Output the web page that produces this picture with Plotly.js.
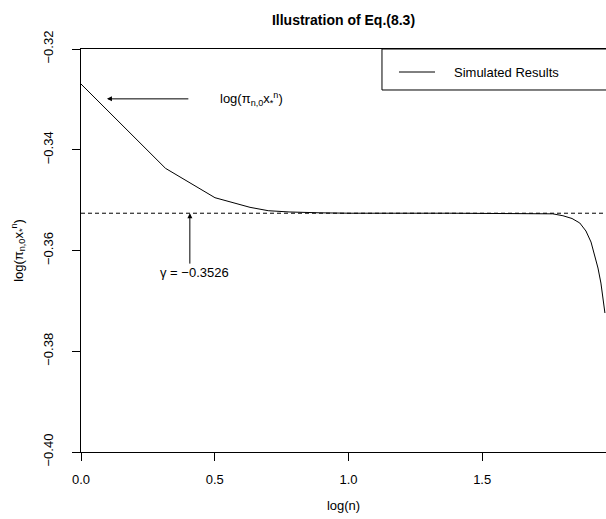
<!DOCTYPE html>
<html>
<head>
<meta charset="utf-8">
<script src="https://cdn.plot.ly/plotly-3.0.1.min.js"></script>
<style>html,body{margin:0;padding:0;background:#fff;}#chart{width:606px;height:519px;}</style>
</head>
<body>
<div id="chart"></div>
<script>
// log(n) readings and simulated values
const logN = [0, 0.316, 0.501, 0.632, 0.70, 0.778, 0.893, 1.006, 1.379, 1.716, 1.764, 1.802, 1.836, 1.865, 1.888, 1.907, 1.921, 1.933, 1.944, 1.951, 1.959];
const simulated = [-0.32695, -0.34369, -0.34952, -0.35143, -0.35210, -0.35235, -0.35252, -0.3526, -0.3526, -0.3526, -0.35272, -0.35310, -0.35365, -0.35454, -0.35613, -0.35832, -0.36090, -0.36348, -0.36646, -0.36884, -0.37241];
const gamma = -0.3526;
const xTickVals = [0, 0.5, 1.0, 1.5];
const xTickText = ['0.0', '0.5', '1.0', '1.5'];
const yTickVals = [-0.40, -0.38, -0.36, -0.34, -0.32];
const yTickText = ['\u22120.40', '\u22120.38', '\u22120.36', '\u22120.34', '\u22120.32'];
const xRange = [0, 1.963];
const yRange = [-0.40, -0.32];

const fam = 'Liberation Sans, Arial, Helvetica, sans-serif';
const font = {family: fam, color: '#000', size: 13};

const traces = [
  {x: logN, y: simulated, type: 'scatter', mode: 'lines', name: 'Simulated Results',
   line: {color: '#000', width: 1}, showlegend: false, hoverinfo: 'skip'},
  {x: xRange, y: [gamma, gamma], type: 'scatter', mode: 'lines', name: 'gamma',
   line: {color: '#000', width: 1, dash: '4px,3px'}, showlegend: false, hoverinfo: 'skip'}
];

const layout = {
  width: 606, height: 519,
  margin: {l: 81, r: 0, t: 49, b: 67},
  paper_bgcolor: '#fff', plot_bgcolor: '#fff',
  font: font,
  title: {text: '<b>Illustration of Eq.(8.3)</b>', font: {family: fam, size: 14, color: '#000'},
          x: 0.5, xref: 'paper', y: 1 - 20/519, yanchor: 'middle'},
  xaxis: {range: xRange, tickvals: xTickVals, ticktext: xTickText, showgrid: false, zeroline: false,
          showline: true, linecolor: '#000', linewidth: 1, mirror: true,
          ticks: 'outside', ticklen: 8, tickcolor: '#000', tickwidth: 1,
          ticklabelstandoff: 7, tickfont: {size: 13},
          title: {text: 'log(n)', font: {size: 13, family: fam}, standoff: 15}},
  yaxis: {range: yRange, tickvals: yTickVals, ticktext: yTickText, showgrid: false, zeroline: false,
          showline: true, linecolor: '#000', linewidth: 1,
          ticks: 'outside', ticklen: 8, tickcolor: '#000', tickwidth: 1, tickangle: -90,
          ticklabelstandoff: 14, tickfont: {size: 13},
          title: {text: 'log(\u03c0<sub>n,0</sub>x<sub>*</sub><sup>n</sup>)', font: {size: 13, family: fam}, standoff: 14}},
  shapes: [
    {type: 'rect', xref: 'paper', yref: 'paper', x0: 0.5733, x1: 1.02, y0: 0.8983, y1: 1,
     line: {color: '#000', width: 1}, fillcolor: 'rgba(0,0,0,0)'},
    {type: 'line', xref: 'paper', yref: 'paper', x0: 0.6057, x1: 0.6743, y0: 0.9429, y1: 0.9429,
     line: {color: '#000', width: 1}}
  ],
  annotations: [
    {xref: 'paper', yref: 'paper', x: 0.7067, y: 0.9429, xanchor: 'left', yanchor: 'middle',
     text: 'Simulated Results', showarrow: false, font: {size: 13}},
    {x: 0.097, y: -0.3299, ax: 0.407, ay: -0.3299, axref: 'x', ayref: 'y', xref: 'x', yref: 'y',
     text: '', showarrow: true, arrowhead: 2, arrowsize: 1, arrowwidth: 1, arrowcolor: '#000'},
    {x: 0.512, y: -0.3299, xanchor: 'left', yanchor: 'middle', showarrow: false,
     text: 'log(\u03c0<sub>n,0</sub>x<sub>*</sub><sup>n</sup>)', font: {size: 13}},
    {x: 0.407, y: gamma, ax: 0.407, ay: -0.3629, axref: 'x', ayref: 'y', xref: 'x', yref: 'y',
     text: '', showarrow: true, arrowhead: 2, arrowsize: 1, arrowwidth: 1, arrowcolor: '#000'},
    {x: 0.426, y: -0.3643, xanchor: 'center', yanchor: 'middle', showarrow: false,
     text: '\u03b3 = \u22120.3526', font: {size: 13}}
  ]
};

Plotly.newPlot('chart', traces, layout, {displayModeBar: false, staticPlot: true});
</script>
</body>
</html>
